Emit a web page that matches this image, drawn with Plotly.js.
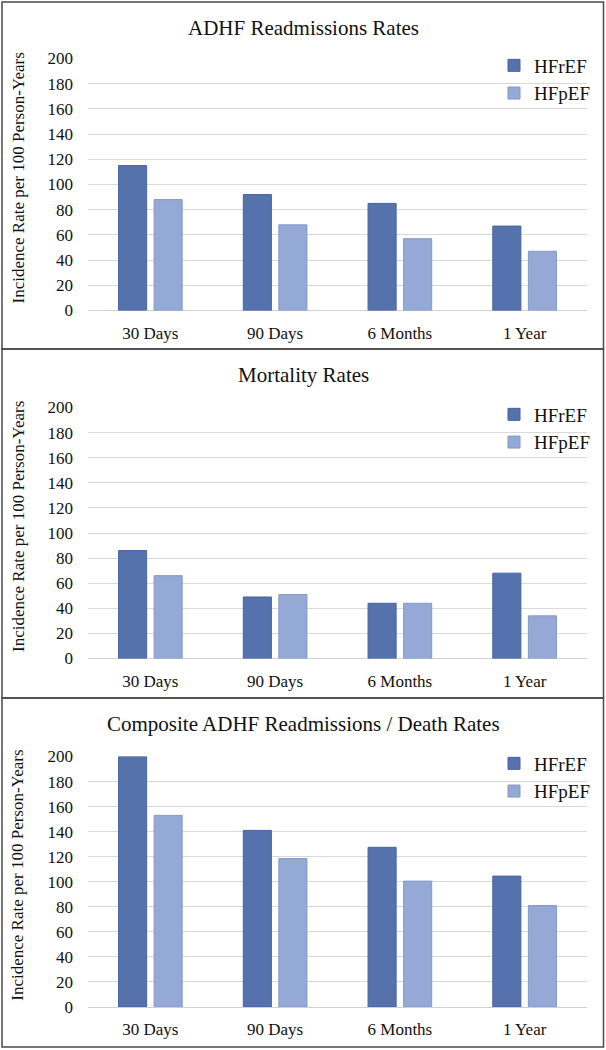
<!DOCTYPE html>
<html>
<head>
<meta charset="utf-8">
<script src="https://cdn.plot.ly/plotly-3.0.1.min.js"></script>
<style>html,body{margin:0;padding:0;background:#fff;}#chart{width:606px;height:1050px;}</style>
</head>
<body>
<div id="chart"></div>
<script>
var categories = ["30 Days", "90 Days", "6 Months", "1 Year"];
var seriesNames = ["HFrEF", "HFpEF"];
var panelTitles = ["ADHF Readmissions Rates", "Mortality Rates", "Composite ADHF Readmissions / Death Rates"];
var yAxisTitle = "Incidence Rate per 100 Person-Years";
var yTickVals = [0, 20, 40, 60, 80, 100, 120, 140, 160, 180, 200];

var readmitHFrEF = [115, 92, 85, 67];
var readmitHFpEF = [88, 68, 57, 47];
var mortalityHFrEF = [86, 49, 44, 68];
var mortalityHFpEF = [66, 51, 44, 34];
var compositeHFrEF = [200, 141, 127.5, 104.5];
var compositeHFpEF = [153, 118.5, 100.5, 81];

var colors = ["#5572ac", "#94a9d6"];
var lineColors = ["#4763a0", "#8598c8"];
var FONT = "Liberation Serif";

var panels = [
  [readmitHFrEF, readmitHFpEF],
  [mortalityHFrEF, mortalityHFpEF],
  [compositeHFrEF, compositeHFpEF]
];

var H = 1050, W = 606;
function py(px) { return (H - px) / H; }
var plotBox = [[58.5, 310.5], [407.5, 658.5], [756.5, 1007]];
var panelBox = [[2, 349], [349, 698], [698, 1047]];

var traces = [];
var layout = {
  width: W, height: H,
  margin: {l: 0, r: 0, t: 0, b: 0},
  paper_bgcolor: "#ffffff",
  plot_bgcolor: "#ffffff",
  barmode: "group",
  bargap: 0.43,
  bargroupgap: 0.21,
  font: {family: FONT, color: "#111", size: 17},
  annotations: [],
  shapes: [],
  showlegend: true
};

for (var p = 0; p < 3; p++) {
  var sfx = p === 0 ? "" : String(p + 1);
  for (var s = 0; s < 2; s++) {
    traces.push({
      type: "bar",
      name: seriesNames[s],
      x: categories,
      y: panels[p][s],
      xaxis: "x" + sfx,
      yaxis: "y" + sfx,
      legend: "legend" + sfx,
      legendgroup: "g" + p + "_" + s,
      marker: {color: colors[s], line: {color: lineColors[s], width: 1}},
      hoverinfo: "x+y+name"
    });
  }
  layout["xaxis" + sfx] = {
    domain: [88 / W, 587 / W],
    anchor: "y" + sfx,
    type: "category",
    showgrid: false,
    zeroline: false,
    showline: false,
    ticks: "",
    ticklabelstandoff: 10,
    tickfont: {family: FONT, size: 17, color: "#111"}
  };
  layout["yaxis" + sfx] = {
    domain: [py(plotBox[p][1]), py(plotBox[p][0])],
    anchor: "x" + sfx,
    range: [0, 200],
    tickvals: yTickVals,
    showgrid: true,
    gridcolor: "#d9d9d9",
    gridwidth: 1,
    zeroline: true,
    zerolinecolor: "#d0d0d0",
    zerolinewidth: 1,
    showline: false,
    ticks: "",
    ticklabelstandoff: 14,
    tickfont: {family: FONT, size: 17, color: "#111"}
  };
  layout["legend" + sfx] = {
    x: 494 / W,
    y: py(plotBox[p][0] - 12),
    xanchor: "left",
    yanchor: "top",
    bgcolor: "rgba(0,0,0,0)",
    font: {family: FONT, size: 19, color: "#111"},
    tracegroupgap: 3.5,
    itemwidth: 30,
    traceorder: "normal"
  };
  layout.annotations.push({
    text: panelTitles[p],
    xref: "paper", yref: "paper",
    x: 0.5, y: py(panelBox[p][0] + 26),
    xanchor: "center", yanchor: "middle",
    showarrow: false,
    font: {family: FONT, size: 21, color: "#111"}
  });
  layout.annotations.push({
    text: yAxisTitle,
    xref: "paper", yref: "paper",
    x: 18 / W, y: py((plotBox[p][0] + plotBox[p][1]) / 2 - 6),
    xanchor: "center", yanchor: "middle",
    textangle: -90,
    showarrow: false,
    font: {family: FONT, size: 17, color: "#111"}
  });
  layout.shapes.push({
    type: "rect", xref: "paper", yref: "paper",
    x0: 2 / W, x1: 603.5 / W,
    y0: py(panelBox[p][1]), y1: py(panelBox[p][0]),
    line: {color: "#4a4a4a", width: 1.5},
    fillcolor: "rgba(0,0,0,0)",
    layer: "above"
  });
}

Plotly.newPlot("chart", traces, layout, {displayModeBar: false, staticPlot: true});
</script>
</body>
</html>
